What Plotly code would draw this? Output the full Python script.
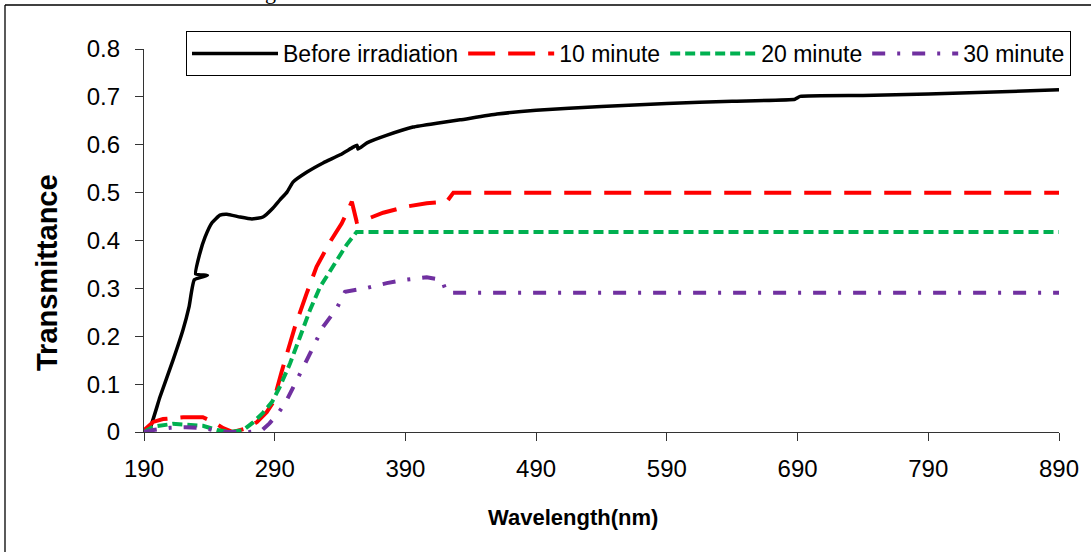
import plotly.graph_objects as go

# ---------------- data ----------------
black_x = [190, 191.5, 194.6, 202.2, 212.2, 219.8, 224.5, 228.5, 238.5, 229.5, 232.8, 236.7, 242, 248.1,
           253.5, 263.5, 272.6, 281, 288.7, 294, 299.4, 304, 314.7, 327, 340, 350, 353, 353.7, 360.6,
           376, 395.8, 414, 431.8, 460, 490, 540, 590, 640, 688, 692, 740, 790, 840, 890]
black_y = [0, 0, 0.008, 0.073, 0.150, 0.213, 0.262, 0.318, 0.327, 0.330, 0.374, 0.407, 0.437, 0.453,
           0.455, 0.449, 0.445, 0.449, 0.468, 0.485, 0.501, 0.522, 0.543, 0.562, 0.579, 0.595, 0.599, 0.591, 0.604,
           0.620, 0.637, 0.645, 0.652, 0.664, 0.672, 0.680, 0.686, 0.691, 0.695, 0.701, 0.703, 0.706, 0.710, 0.715]

red_x = [190, 197, 204.6, 220, 235, 243, 250.6, 258, 268.5, 276.5, 284, 289, 295.3, 305.5, 314.5, 322,
         332.3, 341.3, 349, 352.7, 361.6, 373, 391, 406.3, 421.6, 426.7, 890]
red_y = [0.004, 0.021, 0.027, 0.031, 0.031, 0.021, 0.008, 0.0, 0.008, 0.021, 0.042, 0.063, 0.126, 0.220,
         0.290, 0.345, 0.397, 0.436, 0.481, 0.439, 0.446, 0.458, 0.471, 0.478, 0.481, 0.500, 0.500]

green_x = [190, 197, 212, 225, 235, 246, 256, 266, 273, 281, 288, 294, 301.7, 309.4, 317, 324.7, 334.8,
           345, 352.7, 890]
green_y = [0, 0.011, 0.017, 0.015, 0.013, 0.004, 0, 0.004, 0.019, 0.040, 0.063, 0.095, 0.143, 0.199,
           0.255, 0.303, 0.345, 0.391, 0.418, 0.418]

purple_x = [190, 197, 210, 222, 235, 245, 252, 270, 280, 286, 292, 298, 304, 312, 319.5, 327, 337.4,
            343.8, 359, 375.7, 389.7, 406.3, 417.8, 421.6, 890]
purple_y = [0, 0.004, 0.009, 0.010, 0.008, 0.004, 0, 0, 0.003, 0.018, 0.037, 0.060, 0.091, 0.136, 0.178,
            0.220, 0.258, 0.293, 0.300, 0.311, 0.318, 0.323, 0.318, 0.291, 0.291]

series_names = ["Before irradiation", "10 minute", "20 minute", "30 minute"]
x_ticks = [190, 290, 390, 490, 590, 690, 790, 890]
y_ticks = [0, 0.1, 0.2, 0.3, 0.4, 0.5, 0.6, 0.7, 0.8]
y_ticktext = ["0", "0.1", "0.2", "0.3", "0.4", "0.5", "0.6", "0.7", "0.8"]
x_title = "Wavelength(nm)"
y_title = "Transmittance"

FONT = "Liberation Sans, Arial, sans-serif"

fig = go.Figure()
fig.add_trace(go.Scatter(x=black_x, y=black_y, mode="lines", name=series_names[0],
                         line=dict(color="black", width=3.5, shape="spline", smoothing=0.4)))
fig.add_trace(go.Scatter(x=red_x, y=red_y, mode="lines", name=series_names[1],
                         line=dict(color="#FF0000", width=4, dash="27px,13px")))
fig.add_trace(go.Scatter(x=green_x, y=green_y, mode="lines", name=series_names[2],
                         line=dict(color="#00B050", width=4, dash="10px,5px")))
fig.add_trace(go.Scatter(x=purple_x, y=purple_y, mode="lines", name=series_names[3],
                         line=dict(color="#7030A0", width=4, dash="13px,12px,3px,12px")))

W, H = 1091, 552
L, R, T, B = 144, 1059, 49, 432


def px_x(p):
    return (p - L) / (R - L)


def px_y(p):
    return (B - p) / (B - T)


fig.update_layout(
    width=W, height=H,
    margin=dict(l=L, r=W - R, t=T, b=H - B, autoexpand=False),
    paper_bgcolor="white", plot_bgcolor="white",
    font=dict(family=FONT, color="black"),
    showlegend=True,
    legend=dict(orientation="h", x=px_x(186), y=px_y(31), xanchor="left", yanchor="top",
                bordercolor="black", borderwidth=1, bgcolor="white",
                font=dict(family=FONT, size=23, color="black"),
                itemwidth=86, traceorder="normal"),
    xaxis=dict(range=[190, 890], tickvals=x_ticks, ticks="outside", ticklen=8, tickwidth=1.3,
               tickcolor="#333", showline=True, linecolor="#333", linewidth=1.3, showgrid=False,
               zeroline=False, tickfont=dict(family=FONT, size=24, color="black"),
               ticklabelstandoff=7),
    yaxis=dict(range=[0, 0.8], tickvals=y_ticks, ticktext=y_ticktext, ticks="outside", ticklen=8,
               tickwidth=1.3, tickcolor="#333", showline=True, linecolor="#333", linewidth=1.3,
               showgrid=False, zeroline=False, tickfont=dict(family=FONT, size=24, color="black"),
               ticklabelstandoff=10),
)

# axis titles (placed where the reference has them)
fig.add_annotation(xref="paper", yref="paper", x=px_x(573), y=px_y(517), xanchor="center", yanchor="middle",
                   text="<b>" + x_title + "</b>", showarrow=False,
                   font=dict(family=FONT, size=22, color="black"))
fig.add_annotation(xref="paper", yref="paper", x=px_x(47), y=px_y(273), xanchor="center", yanchor="middle",
                   text="<b>" + y_title + "</b>", showarrow=False, textangle=-90,
                   font=dict(family=FONT, size=29, color="black"))

# outer frame of the figure (top and left edges visible)
fig.add_shape(type="line", xref="paper", yref="paper", x0=px_x(5), x1=px_x(1095), y0=px_y(5), y1=px_y(5),
              line=dict(color="black", width=1.3))
fig.add_shape(type="line", xref="paper", yref="paper", x0=px_x(5), x1=px_x(5), y0=px_y(5), y1=px_y(560),
              line=dict(color="black", width=1.3))

# clipped caption text above the frame
fig.add_annotation(xref="paper", yref="paper", x=px_x(270), y=px_y(6), xanchor="center", yanchor="bottom",
                   text="g", showarrow=False, font=dict(family="Liberation Serif, serif", size=22, color="black"))

fig.write_html("out.html", config={"displayModeBar": False},
               post_script="document.body.style.margin='0px';")
